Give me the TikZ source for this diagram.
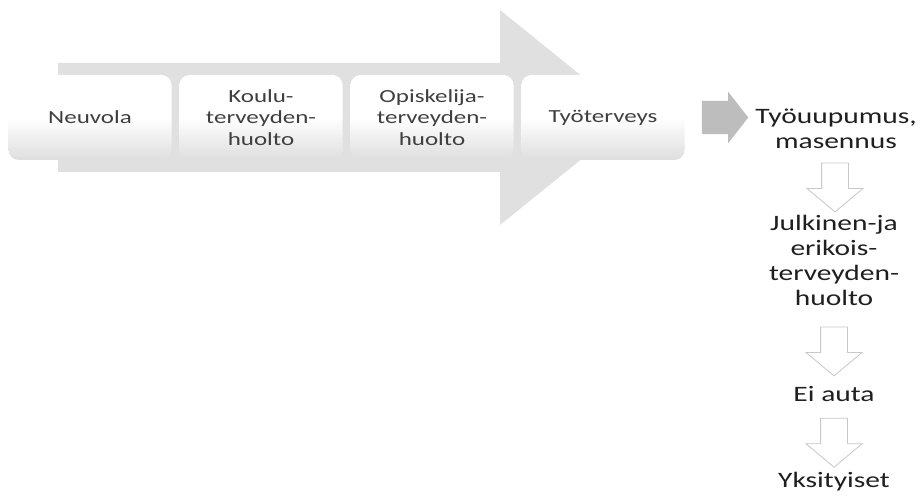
\documentclass[tikz,border=0pt]{standalone}
\usepackage{fontspec}
\setmainfont{Carlito}
\newfontfamily\boxfont[FakeStretch=1.35]{Carlito}
\newfontfamily\sidefont[FakeStretch=1.34]{Carlito}
\usetikzlibrary{shapes.arrows,calc}
\definecolor{arrowgrey}{HTML}{E0E0E0}
\definecolor{stepgrey}{HTML}{BDBDBD}
\definecolor{boxtext}{HTML}{3F3F3F}
\definecolor{outlinegrey}{HTML}{C8C8C8}
\tikzset{
  stage/.style={rounded corners=10pt, minimum width=163pt, minimum height=85pt,
    top color=white, bottom color=black!13, middle color=white,
    text=boxtext, align=center, font=\boxfont\fontsize{18.5}{21.5}\selectfont},
  sidetext/.style={align=center, text=black!88, font=\sidefont\fontsize{22}{25}\selectfont},
  downarrow/.style={single arrow, draw=outlinegrey, fill=white, line width=0.8pt,
    shape border rotate=270, inner sep=13pt, minimum height=49pt,
    single arrow head extend=14.5pt, single arrow tip angle=100},
  greyarrow/.style={single arrow, fill=stepgrey, inner sep=16.5pt,
    minimum height=37pt, single arrow head extend=9pt, single arrow tip angle=104}
}
\begin{document}
\begin{tikzpicture}[x=1pt,y=-1pt]
\useasboundingbox (0,0) rectangle (920,497);
% big background arrow
\fill[arrowgrey] (58,63) -- (500,63) -- (500,10) -- (633,117.5) -- (500,225) -- (500,172) -- (58,172) -- cycle;
% stages
\node[stage] (neuvola) at (90,117.5) {Neuvola};
\node[stage] (koulu) at (261,117.5) {Koulu-\\terveyden-\\huolto};
\node[stage] (opiskelija) at (432,117.5) {Opiskelija-\\terveyden-\\huolto};
\node[stage] (tyo) at (603,117.5) {Työterveys};
\node[greyarrow] (step) at (718.5,117.5) {};
% right column
\node[sidetext] (uupumus) at (836,129) {Työuupumus,\\masennus};
\node[sidetext] (julkinen) at (834,260) {Julkinen-ja\\erikois-\\terveyden-\\huolto};
\node[sidetext] (eiauta) at (834,394) {Ei auta};
\node[sidetext] (yksityiset) at (834,482) {Yksityiset};
\node[downarrow] at ($(uupumus.south)!0.5!(julkinen.north)$ -| eiauta) {};
\node[downarrow] at ($(julkinen.south)!0.5!(eiauta.north)$) {};
\node[downarrow] at ($(eiauta.south)!0.5!(yksityiset.north)$) {};
\end{tikzpicture}
\end{document}
